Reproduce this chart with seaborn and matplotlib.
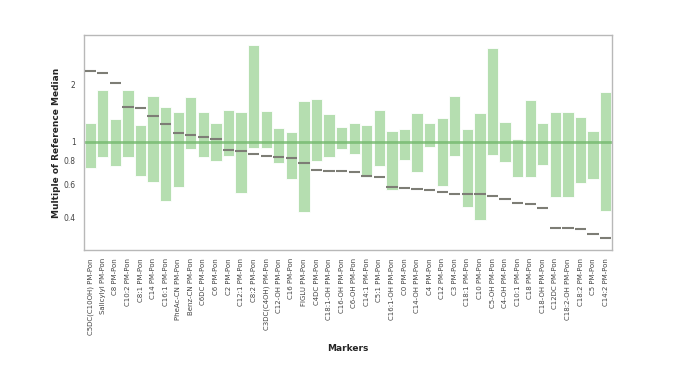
import numpy as np
import pandas as pd
import matplotlib
matplotlib.use("Agg")
import matplotlib.pyplot as plt
import seaborn as sns

markers = ["C5DC(C10OH)", "Salicylyl", "C8", "C10:2", "C8:1", "C14", "C16:1",
           "PheAc-CN", "Benz-CN", "C6DC", "C6", "C2", "C12:1", "C8:2",
           "C3DC(C4OH)", "C12-OH", "C16", "FIGLU", "C4DC", "C18:1-OH", "C16-OH",
           "C6-OH", "C14:1", "C5:1", "C16:1-OH", "C0", "C14-OH", "C4", "C12",
           "C3", "C18:1", "C10", "C5-OH", "C4-OH", "C10:1", "C18", "C18-OH",
           "C12DC", "C18:2-OH", "C18:2", "C5", "C14:2"]
range_high = [1.25, 1.87, 1.32, 1.87, 1.23, 1.74, 1.52, 1.43, 1.71, 1.44, 1.26, 1.47,
              1.44, 3.22, 1.45, 1.18, 1.13, 1.63, 1.67, 1.40, 1.20, 1.26, 1.22, 1.47,
              1.14, 1.17, 1.42, 1.26, 1.34, 1.74, 1.17, 1.41, 3.11, 1.27, 1.03, 1.65,
              1.26, 1.43, 1.43, 1.35, 1.14, 1.83]
range_low = [0.733, 0.838, 0.749, 0.838, 0.664, 0.620, 0.491, 0.583, 0.923, 0.838,
             0.795, 0.848, 0.537, 0.934, 0.934, 0.773, 0.642, 0.430, 0.795, 0.831,
             0.915, 0.862, 0.658, 0.749, 0.559, 0.805, 0.694, 0.938, 0.588, 0.845,
             0.458, 0.391, 0.852, 0.789, 0.658, 0.658, 0.758, 0.515, 0.515, 0.610,
             0.638, 0.434]
patient = [2.36, 2.30, 2.04, 1.52, 1.50, 1.36, 1.24, 1.11, 1.09, 1.06, 1.03, 0.908,
           0.897, 0.865, 0.845, 0.832, 0.828, 0.779, 0.716, 0.708, 0.705, 0.697,
           0.661, 0.658, 0.579, 0.577, 0.565, 0.561, 0.545, 0.536, 0.534, 0.532,
           0.523, 0.503, 0.478, 0.472, 0.450, 0.353, 0.353, 0.350, 0.329, 0.313]

df = pd.DataFrame({"marker": [m + " PM-Pon" for m in markers],
                   "low": range_low, "high": range_high, "value": patient})
df["pos"] = np.arange(len(df))

sns.set_style("white")
plt.rcParams["font.family"] = ["DejaVu Sans"]

fig, ax = plt.subplots(figsize=(6.85, 3.85), dpi=100)
fig.subplots_adjust(left=0.1226, right=0.8934, top=0.909, bottom=0.351)

# reference range per marker
ax.bar(df["pos"], df["high"] - df["low"], bottom=df["low"], width=0.9,
       color="#b5deb0", edgecolor="white", linewidth=0.6, zorder=1)
ax.axhline(1, color="#74b96e", linewidth=2, alpha=0.8, zorder=2)
# patient value
ax.hlines(df["value"], df["pos"] - 0.45, df["pos"] + 0.45,
          color="#7d7d75", linewidth=1.5, zorder=3)

ax.set_yscale("log")
ax.set_ylim(0.272, 3.63)
ax.set_xlim(-0.5, len(df) - 0.5)
ax.set_yticks([0.4, 0.6, 0.8, 1, 2])
ax.set_yticklabels(["0.4", "0.6", "0.8", "1", "2"])
ax.yaxis.set_minor_locator(matplotlib.ticker.NullLocator())
ax.set_xticks(df["pos"])
ax.set_xticklabels(df["marker"], rotation=90)

ax.tick_params(axis="both", which="major", length=4, width=0.8, color="#b0b0b0",
               labelcolor="#444444", pad=2, direction="out")
ax.tick_params(axis="x", labelsize=5)
ax.tick_params(axis="y", labelsize=5.5)
for s in ax.spines.values():
    s.set_color("#b8b8b8")
    s.set_linewidth(1)

ax.set_xlabel("Markers", fontsize=6.5, fontweight="bold", labelpad=7)
ax.set_ylabel("Multiple of Reference Median", fontsize=6.5, fontweight="bold", labelpad=2)

fig.savefig("out.png", dpi=100)
